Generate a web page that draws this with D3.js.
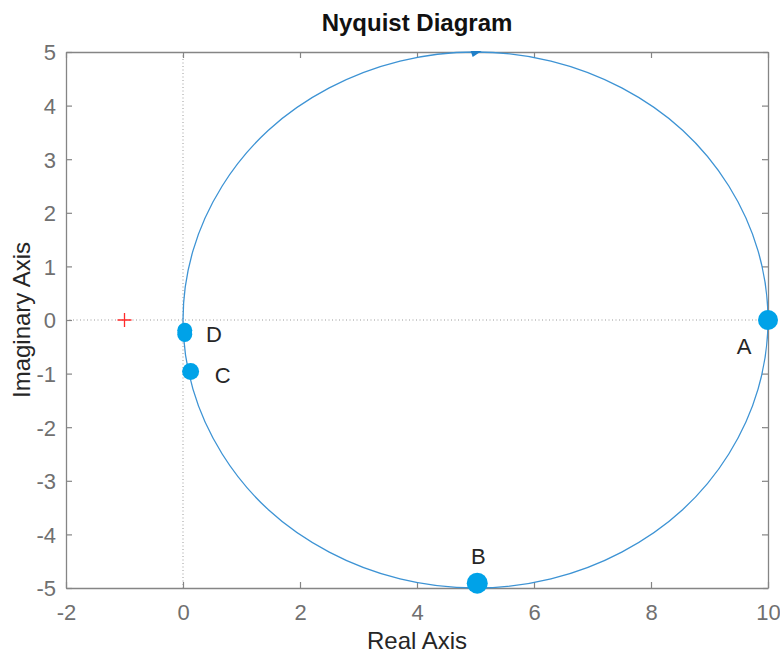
<!DOCTYPE html>
<html>
<head>
<meta charset="utf-8">
<script src="https://cdn.jsdelivr.net/npm/d3@7"></script>
<style>
  body { margin: 0; background: #fff; }
  text { font-family: "Liberation Sans", Arial, sans-serif; }
</style>
</head>
<body>
<svg id="chart" width="780" height="656"></svg>
<script>
// curve (real, imaginary)
var curveRe = [10, 9.83, 9.33, 8.54, 7.5, 6.29, 5, 3.71, 2.5, 1.46, 0.67, 0.17, 0,
  0.17, 0.67, 1.46, 2.5, 3.71, 5, 6.29, 7.5, 8.54, 9.33, 9.83];
var curveIm = [0, 1.29, 2.5, 3.54, 4.33, 4.83, 5, 4.83, 4.33, 3.54, 2.5, 1.29, 0,
  -1.29, -2.5, -3.54, -4.33, -4.83, -5, -4.83, -4.33, -3.54, -2.5, -1.29];

// marked points
var markerRe = [10, 5.03, 0.13, 0.03, 0.03];
var markerIm = [0, -4.91, -0.96, -0.19, -0.27];
var markerR = [10, 10.5, 8.5, 7.5, 7.5];

var labelText = ["A", "B", "C", "D"];
var labelRe = [9.59, 5.05, 0.68, 0.53];
var labelIm = [-0.49, -4.4, -1.02, -0.26];

var xTicks = [-2, 0, 2, 4, 6, 8, 10];
var yTicks = [-5, -4, -3, -2, -1, 0, 1, 2, 3, 4, 5];

var mLeft = 66, mRight = 768, mTop = 52, mBottom = 588;

var svg = d3.select("#chart");

var x = d3.scaleLinear().domain([-2, 10]).range([mLeft, mRight]);
var y = d3.scaleLinear().domain([-5, 5]).range([mBottom, mTop]);

var axisColor = "#858585";
var fmt = function(d) { return String(d); };

svg.append("defs").append("clipPath").attr("id", "clip")
  .append("rect")
  .attr("x", mLeft).attr("y", mTop - 1)
  .attr("width", mRight - mLeft).attr("height", mBottom - mTop + 2);

// dotted zero lines
svg.append("line")
  .attr("x1", x(0)).attr("x2", x(0))
  .attr("y1", mTop).attr("y2", mBottom)
  .attr("stroke", "#9a9a9a").attr("stroke-width", 1)
  .attr("stroke-dasharray", "1,2.5");
svg.append("line")
  .attr("x1", mLeft).attr("x2", mRight)
  .attr("y1", y(0)).attr("y2", y(0))
  .attr("stroke", "#9a9a9a").attr("stroke-width", 1)
  .attr("stroke-dasharray", "1,2.5");

// axes (ticks inward)
var bottomAxis = svg.append("g")
  .attr("transform", "translate(0," + mBottom + ")")
  .call(d3.axisBottom(x).tickValues(xTicks).tickFormat(fmt).tickSizeInner(-6).tickSizeOuter(0).tickPadding(16));
var topAxis = svg.append("g")
  .attr("transform", "translate(0," + mTop + ")")
  .call(d3.axisTop(x).tickValues(xTicks).tickSizeInner(-6).tickSizeOuter(0).tickFormat(""));
var leftAxis = svg.append("g")
  .attr("transform", "translate(" + mLeft + ",0)")
  .call(d3.axisLeft(y).tickValues(yTicks).tickFormat(fmt).tickSizeInner(-6).tickSizeOuter(0).tickPadding(10));
var rightAxis = svg.append("g")
  .attr("transform", "translate(" + mRight + ",0)")
  .call(d3.axisRight(y).tickValues(yTicks).tickSizeInner(-6).tickSizeOuter(0).tickFormat(""));

[bottomAxis, topAxis, leftAxis, rightAxis].forEach(function(g) {
  g.select(".domain").attr("stroke", axisColor).attr("stroke-width", 1.3);
  g.selectAll(".tick line").attr("stroke", axisColor).attr("stroke-width", 1.2);
  g.selectAll(".tick text")
    .attr("fill", "#707070")
    .style("font-size", "22px")
    .style("font-family", "'Liberation Sans', Arial, sans-serif");
});
bottomAxis.selectAll(".tick text").attr("dy", "0.71em");
leftAxis.selectAll(".tick text").attr("dy", "0.36em");

// the curve
var pts = curveRe.map(function(d, i) { return [d, curveIm[i]]; });
var line = d3.line()
  .x(function(d) { return x(d[0]); })
  .y(function(d) { return y(d[1]); })
  .curve(d3.curveCatmullRomClosed.alpha(0.5));

svg.append("path")
  .attr("clip-path", "url(#clip)")
  .attr("d", line(pts))
  .attr("fill", "none")
  .attr("stroke", "#3d93d4")
  .attr("stroke-width", 1.3);

// direction arrow at the top
var ax = x(5.02), ay = y(5);
svg.append("path")
  .attr("d", "M" + (ax - 6) + "," + (ay - 1) + "L" + (ax + 5) + "," + (ay - 1) + "L" + (ax - 4) + "," + (ay + 5) + "Z")
  .attr("fill", "#1f7fc8");

// critical point
svg.append("path")
  .attr("d", "M" + (x(-1) - 7) + "," + y(0) + "H" + (x(-1) + 7) + "M" + x(-1) + "," + (y(0) - 7) + "V" + (y(0) + 7))
  .attr("stroke", "#ff2a2a").attr("stroke-width", 1.3);

// markers
svg.selectAll("circle.mk")
  .data(markerRe)
  .enter()
  .append("circle")
  .attr("class", "mk")
  .attr("cx", function(d) { return x(d); })
  .attr("cy", function(d, i) { return y(markerIm[i]); })
  .attr("r", function(d, i) { return markerR[i]; })
  .attr("fill", "#00a2e8");

svg.selectAll("text.lbl")
  .data(labelText)
  .enter()
  .append("text")
  .attr("class", "lbl")
  .attr("x", function(d, i) { return x(labelRe[i]); })
  .attr("y", function(d, i) { return y(labelIm[i]); })
  .attr("text-anchor", "middle")
  .attr("dy", "0.36em")
  .attr("fill", "#262626")
  .style("font-size", "22px")
  .text(function(d) { return d; });

// titles
svg.append("text")
  .attr("x", (mLeft + mRight) / 2)
  .attr("y", 31)
  .attr("text-anchor", "middle")
  .attr("fill", "#111")
  .style("font-size", "24px")
  .style("font-weight", "bold")
  .text("Nyquist Diagram");

svg.append("text")
  .attr("x", (mLeft + mRight) / 2)
  .attr("y", 649)
  .attr("text-anchor", "middle")
  .attr("fill", "#262626")
  .style("font-size", "24px")
  .text("Real Axis");

svg.append("text")
  .attr("transform", "translate(30," + ((mTop + mBottom) / 2) + ")rotate(-90)")
  .attr("text-anchor", "middle")
  .attr("fill", "#262626")
  .style("font-size", "24px")
  .text("Imaginary Axis");
</script>
</body>
</html>
